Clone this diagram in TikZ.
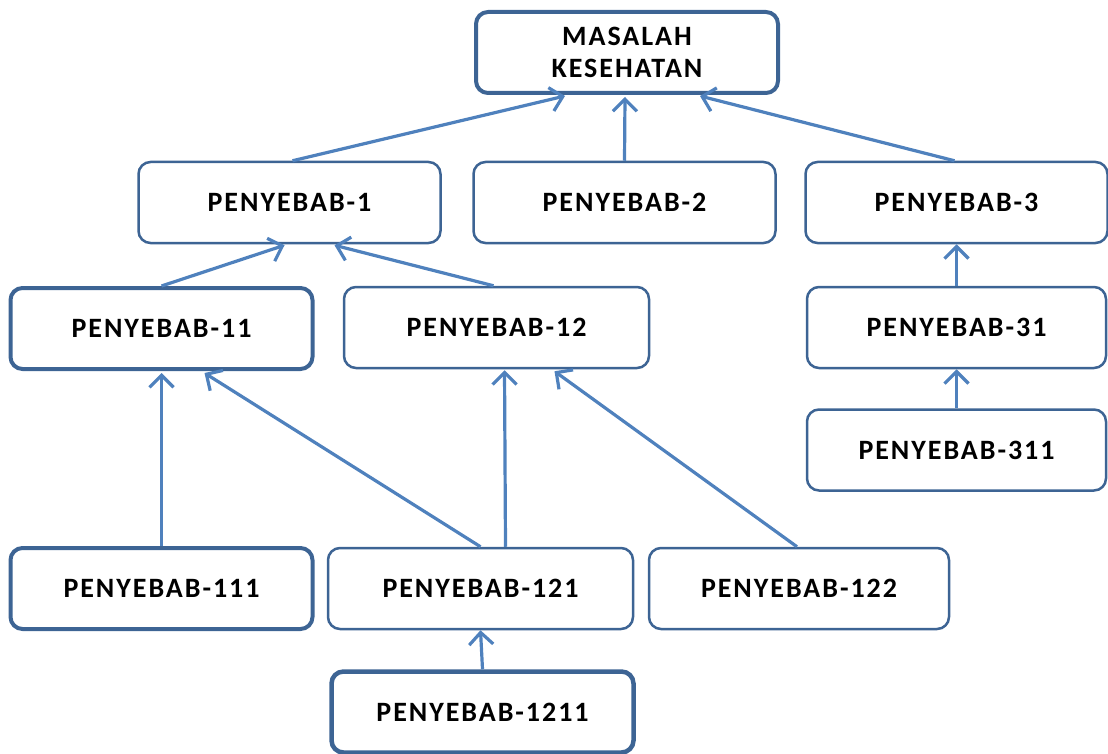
\documentclass[tikz,border=0pt]{standalone}
\usepackage{fontspec}
\setmainfont{Carlito}[LetterSpace=7]
\usetikzlibrary{arrows.meta,calc}
\definecolor{boxline}{HTML}{3D6494}
\definecolor{arrowblue}{HTML}{4F81BD}
\begin{document}
\begin{tikzpicture}[x=1pt,y=-1pt,
  box/.style={draw=boxline, line width=2.5pt, rounded corners=12pt, fill=white,
    minimum width=302pt, minimum height=81pt, inner sep=0pt,
    font=\fontsize{28}{32}\selectfont\bfseries, align=center, text=black},
  thickbox/.style={box, line width=4pt},
  conn/.style={draw=arrowblue, line width=3.2pt, -{Straight Barb[length=12pt,width=24pt,line width=3.2pt]}}]
\useasboundingbox (0,0) rectangle (1108,754);
\node[thickbox] (m) at (627,52.5) {MASALAH\\KESEHATAN};
\node[box] (p1) at (289.5,202.5) {PENYEBAB-1};
\node[box] (p2) at (624.5,202.5) {PENYEBAB-2};
\node[box] (p3) at (956.5,202.5) {PENYEBAB-3};
\node[thickbox] (p11) at (161.5,328.5) {PENYEBAB-11};
\node[box, minimum width=305pt] (p12) at (496.5,327.5) {PENYEBAB-12};
\node[box, minimum width=299pt] (p31) at (956.5,327.5) {PENYEBAB-31};
\node[box, minimum width=299pt] (p311) at (956.5,450) {PENYEBAB-311};
\node[thickbox] (p111) at (161.5,588.5) {PENYEBAB-111};
\node[box, minimum width=305pt] (p121) at (480.5,588.5) {PENYEBAB-121};
\node[box, minimum width=300pt] (p122) at (799,588.5) {PENYEBAB-122};
\node[thickbox, line width=4.5pt] (p1211) at (482.5,712) {PENYEBAB-1211};

\draw[conn] ($(p1.north)+(3,0)$) -- ($(m.south)+(-62,1)$);
\draw[conn] (p2.north) -- ($(m.south)+(-2,2)$);
\draw[conn] ($(p3.north)+(-2,0)$) -- ($(m.south)+(73,1)$);
\draw[conn] ($(p11.north)+(0,0)$) -- ($(p1.south)+(-5,1)$);
\draw[conn] ($(p12.north)+(-3,0)$) -- ($(p1.south)+(45,1)$);
\draw[conn] ($(p111.north)+(0,0)$) -- ($(p11.south)+(0,2)$);
\draw[conn] ($(p121.north)+(0,0)$) -- ($(p11.south)+(43,2)$);
\draw[conn] ($(p121.north)+(25,0)$) -- ($(p12.south)+(8,1)$);
\draw[conn] ($(p122.north)+(-2,0)$) -- ($(p12.south)+(58,2)$);
\draw[conn] (p1211.north) -- (p121.south);
\draw[conn] (p31.north) -- (p3.south);
\draw[conn] (p311.north) -- (p31.south);
\end{tikzpicture}
\end{document}
